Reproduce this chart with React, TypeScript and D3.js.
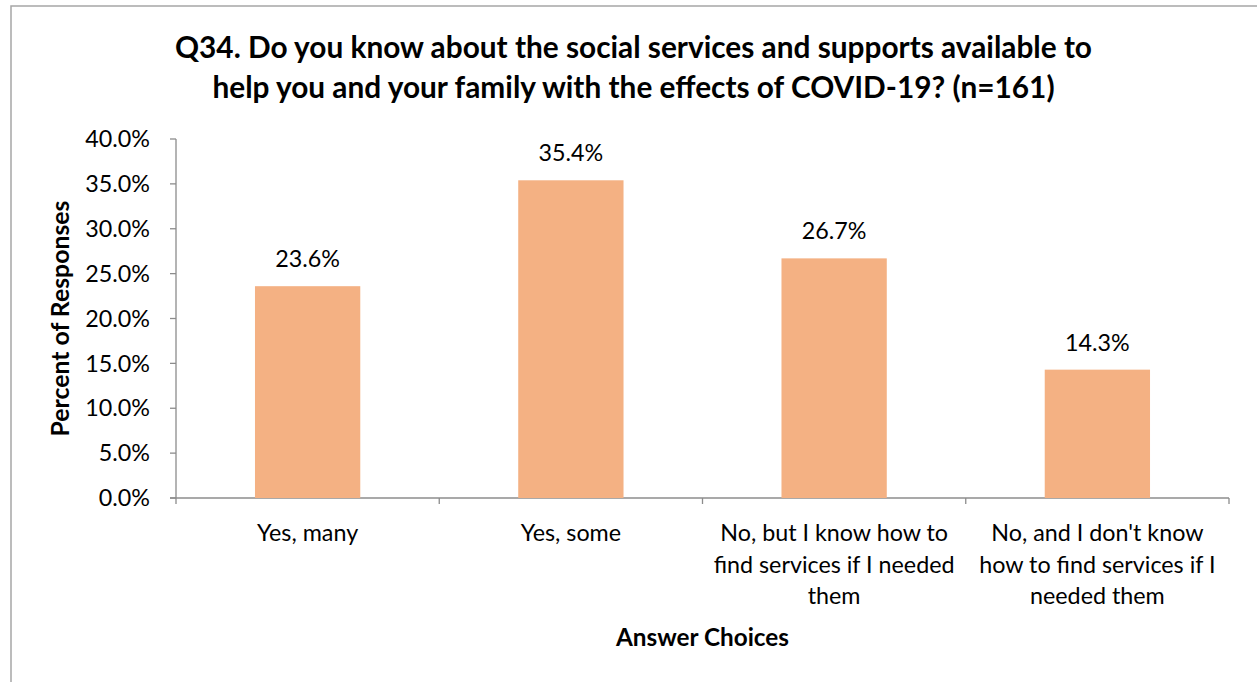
import React from "react";
import * as d3 from "d3";

const categories = [
  "Yes, many",
  "Yes, some",
  "No, but I know how to find services if I needed them",
  "No, and I don't know how to find services if I needed them",
];
const categoryLines = [
  ["Yes, many"],
  ["Yes, some"],
  ["No, but I know how to", "find services if I needed", "them"],
  ["No, and I don't know", "how to find services if I", "needed them"],
];
const values = [0.236, 0.354, 0.267, 0.143];
const yTicks = [0, 0.05, 0.1, 0.15, 0.2, 0.25, 0.3, 0.35, 0.4];
const titleLines = [
  "Q34. Do you know about the social services and supports available to",
  "help you and your family with the effects of COVID-19? (n=161)",
];

const W = 1257;
const H = 682;
const FONT = "Lato, 'Open Sans', sans-serif";

export default function App() {
  const left = 176;
  const right = 1229;
  const top = 139;
  const bottom = 498;
  const x = d3.scaleBand<string>().domain(categories).range([left, right]).paddingInner(0.6).paddingOuter(0.3);
  const xb = d3.scaleBand<string>().domain(categories).range([left, right]);
  const y = d3.scaleLinear().domain([0, 0.4]).range([bottom, top]);
  const fmt = d3.format(".1%");
  const axisColor = "#8c8c8c";
  const fs = 23.3;
  return (
    <svg width={W} height={H} style={{ position: "absolute", left: 0, top: 0, background: "#fff" }} fontFamily={FONT}>
      <rect x={11} y={6} width={W + 20} height={H + 20} fill="#fff" stroke="#a6a6a6" strokeWidth={1.5} />
      {titleLines.map((t, i) => (
        <text key={i} x={633.5} y={58 + i * 40} textAnchor="middle" fontSize={29.8} fontWeight="bold" fill="#000">
          {t}
        </text>
      ))}
      {/* y axis */}
      <line x1={left} x2={left} y1={top} y2={bottom + 6} stroke={axisColor} strokeWidth={1.3} />
      {yTicks.map((t) => (
        <g key={t}>
          <line x1={left - 6} x2={left} y1={y(t)} y2={y(t)} stroke={axisColor} strokeWidth={1.3} />
          <text x={150} y={y(t)} dy="0.35em" textAnchor="end" fontSize={fs} fill="#000">
            {fmt(t)}
          </text>
        </g>
      ))}
      {/* x axis */}
      <line x1={left - 6} x2={right} y1={bottom} y2={bottom} stroke={axisColor} strokeWidth={1.3} />
      {categories.map((c) => (
        <line key={c} x1={(xb(c) as number) + xb.bandwidth()} x2={(xb(c) as number) + xb.bandwidth()} y1={bottom} y2={bottom + 6} stroke={axisColor} strokeWidth={1.3} />
      ))}
      {categories.map((c, i) => (
        <g key={c}>
          <rect x={x(c)} y={y(values[i])} width={x.bandwidth()} height={bottom - y(values[i])} fill="#F4B183" />
          <text x={(x(c) as number) + x.bandwidth() / 2} y={y(values[i]) - 19} textAnchor="middle" fontSize={fs} fill="#000">
            {fmt(values[i])}
          </text>
          {categoryLines[i].map((l, j) => (
            <text key={j} x={(xb(c) as number) + xb.bandwidth() / 2} y={541 + j * 31.5} textAnchor="middle" fontSize={fs} fill="#000">
              {l}
            </text>
          ))}
        </g>
      ))}
      <text transform={`translate(69,${(top + bottom) / 2}) rotate(-90)`} textAnchor="middle" fontSize={24.8} fontWeight="bold" fill="#000">
        Percent of Responses
      </text>
      <text x={702.5} y={646} textAnchor="middle" fontSize={24.3} fontWeight="bold" fill="#000">
        Answer Choices
      </text>
    </svg>
  );
}
